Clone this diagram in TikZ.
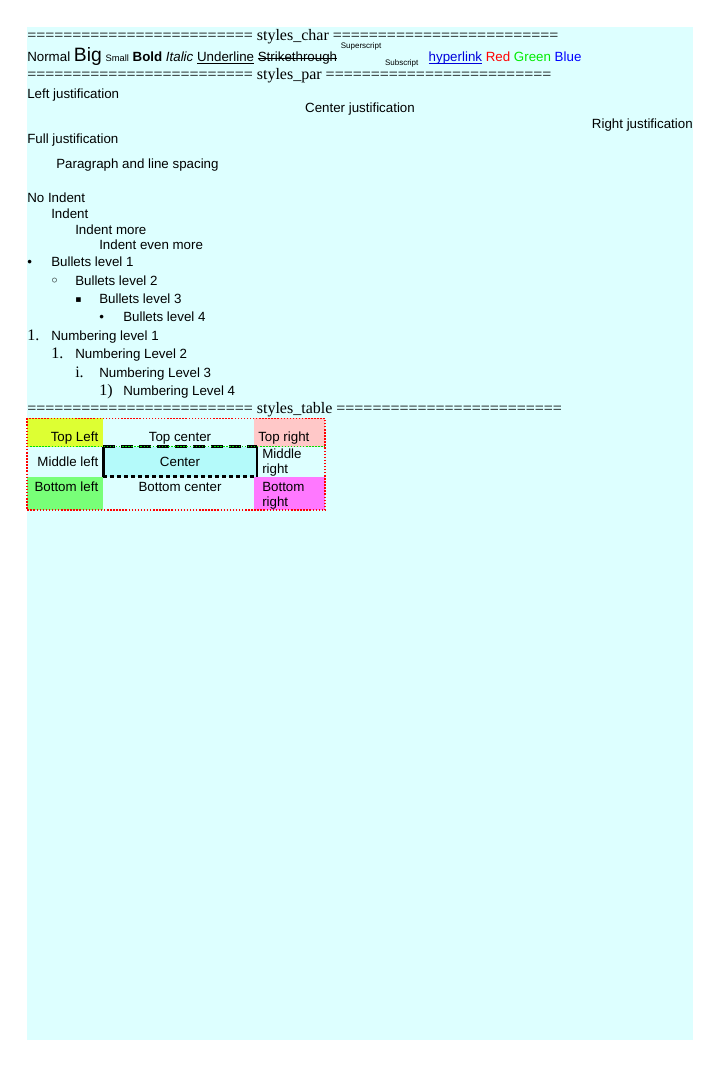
\documentclass[tikz,border=0pt]{standalone}
\usepackage{fontspec}
\setmainfont{Liberation Sans}
\newfontfamily\serifface{Liberation Serif}
\newfontfamily\symbface{DejaVu Sans}
\usetikzlibrary{positioning,calc}

\definecolor{pagebg}{RGB}{221,255,255}
\definecolor{cellyellow}{RGB}{221,255,51}
\definecolor{cellpink}{RGB}{255,200,200}
\definecolor{cellcyan}{RGB}{180,250,250}
\definecolor{cellgreen}{RGB}{120,255,120}
\definecolor{cellmagenta}{RGB}{255,120,255}
\definecolor{linkblue}{RGB}{0,0,220}
\definecolor{txtred}{RGB}{255,0,0}
\definecolor{txtgreen}{RGB}{0,235,0}
\definecolor{txtblue}{RGB}{0,0,255}
\definecolor{rowgreen}{RGB}{0,225,0}

\newcommand\eqrun{=========================}
\newsavebox\markbox
\newcommand\strikeword[1]{\sbox\markbox{#1}\rlap{\usebox\markbox}\rule[0.25em]{\wd\markbox}{0.075em}}
\newcommand\underword[1]{\sbox\markbox{#1}\rlap{\usebox\markbox}\rule[-0.13em]{\wd\markbox}{0.075em}}

\begin{document}
\begin{tikzpicture}[x=0.75pt, y=-0.75pt]
\tikzset{
txt/.style      = {inner sep=0pt, anchor=base west, font=\fontsize{10}{12}\selectfont},
hdr/.style      = {inner sep=0pt, anchor=base west, font=\serifface\fontsize{12}{14}\selectfont},
num/.style      = {inner sep=0pt, anchor=base west, font=\serifface\fontsize{12}{14}\selectfont},
bulletsym/.style = {inner sep=0pt, anchor=base west, font=\symbface\fontsize{7}{8}\selectfont},
dotline/.style  = {line width=1.1pt, dash pattern=on 1.1pt off 1.2pt},
}
    % Page
    \useasboundingbox (0,0) rectangle (720,1066);
    \fill [pagebg] (27,27) rectangle (693,1040);

    % styles_char
    \node [hdr] (hdrchar) at (27,41) {\eqrun{} styles\_char \eqrun};
    \node [txt] (charline) at (27,62) {Normal {\fontsize{14.5}{16}\selectfont Big} {\fontsize{7}{8}\selectfont Small} \textbf{Bold} \textit{Italic} \underword{Underline} \strikeword{Strikethrough} \raisebox{9.8pt}{\fontsize{6}{7}\selectfont Superscript} \raisebox{-2.3pt}{\fontsize{6}{7}\selectfont Subscript}\hspace{5pt} {\color{linkblue}\underword{hyperlink}} {\color{txtred}Red} {\color{txtgreen}Green} {\color{txtblue}Blue}};

    % styles_par
    \node [hdr] (hdrpar) at (27,80) {\eqrun{} styles\_par \eqrun};
    \node [txt]                    (leftjust)   at (27,98.5)   {Left justification};
    \node [txt, anchor=base]       (centerjust) at (360,113)   {Center justification};
    \node [txt, anchor=base east]  (rightjust)  at (693,128.5) {Right justification};
    \node [txt]                    (fulljust)   at (27,144)    {Full justification};
    \node [txt]                    (parspace)   at (56,168.5)  {Paragraph and line spacing};

    % Indents
    \node [txt] (indent0) at (27,203)   {No Indent};
    \node [txt] (indent1) at (51,218.5) {Indent};
    \node [txt] (indent2) at (75,234)   {Indent more};
    \node [txt] (indent3) at (99,249.5) {Indent even more};

    % Bullets
    \node [txt]       (bulletA) at (27,266.5) {•};
    \node [txt]       (bullet1) at (51,266.5) {Bullets level 1};
    \node [bulletsym, font=\symbface\fontsize{12}{14}\selectfont] (bulletB) at (49.5,286) {◦};
    \node [txt]       (bullet2) at (75,285)   {Bullets level 2};
    \node [bulletsym] (bulletC) at (75,302.5) {▪};
    \node [txt]       (bullet3) at (99,303)   {Bullets level 3};
    \node [txt]       (bulletD) at (99,321.5) {•};
    \node [txt]       (bullet4) at (123,321.5) {Bullets level 4};

    % Numbering
    \node [num] (numA) at (27,340)   {1.};
    \node [txt] (num1) at (51,340)   {Numbering level 1};
    \node [num] (numB) at (51,358.5) {1.};
    \node [txt] (num2) at (75,358.5) {Numbering Level 2};
    \node [num] (numC) at (75,377)   {i.};
    \node [txt] (num3) at (99,377)   {Numbering Level 3};
    \node [num] (numD) at (99,395.5) {1)};
    \node [txt] (num4) at (123,395.5) {Numbering Level 4};

    % styles_table
    \node [hdr] (hdrtable) at (27,413.5) {\eqrun{} styles\_table \eqrun};

    % Table grid
    \coordinate (tl) at (27,418.3);
    \coordinate (c1) at (103.3,446.7);
    \coordinate (c2) at (256.7,476.7);
    \coordinate (br) at (325,510);

    % Cell fills
    \fill [cellyellow]  (tl) rectangle (c1);
    \fill [cellpink]    (254,418.3) rectangle (br |- c1);
    \fill [cellcyan]    (c1) rectangle (c2);
    \fill [cellgreen]   (tl |- c2) rectangle (c1 |- br);
    \fill [cellmagenta] (254,476.7) rectangle (br);

    % Center cell borders
    \draw [line width=2.25pt, dash pattern=on 9pt off 4.5pt] (c1) -- (c2 |- c1);
    \draw [line width=1.8pt] (c1) -- (c1 |- c2);
    \draw [line width=1.5pt] (c2 |- c1) -- (c2);
    \draw [line width=2.4pt, dash pattern=on 2.5pt off 2.75pt] (c1 |- c2) -- (c2);
    \draw [dotline, rowgreen] (tl |- c1) -- (br |- c1);
    \draw [dotline, red] (tl) rectangle (br);

    % Cell texts
    \node [txt, anchor=base east] (topleft)   at (98.5,441)   {Top Left};
    \node [txt, anchor=base]      (topcenter) at (180,441)    {Top center};
    \node [txt]                   (topright)  at (258,441)    {Top right};
    \node [txt, anchor=base east] (midleft)   at (98.5,466.5) {Middle left};
    \node [txt, anchor=base]      (center)    at (180,466.5)  {Center};
    \node [txt]                   (midrightA) at (262,458.5)  {Middle};
    \node [txt]                   (midrightB) at (262,473.5)  {right};
    \node [txt, anchor=base east] (botleft)   at (98.5,491)   {Bottom left};
    \node [txt, anchor=base]      (botcenter) at (180,491)    {Bottom center};
    \node [txt]                   (botrightA) at (262,491)    {Bottom};
    \node [txt]                   (botrightB) at (262,506.5)  {right};

\end{tikzpicture}
\end{document}
